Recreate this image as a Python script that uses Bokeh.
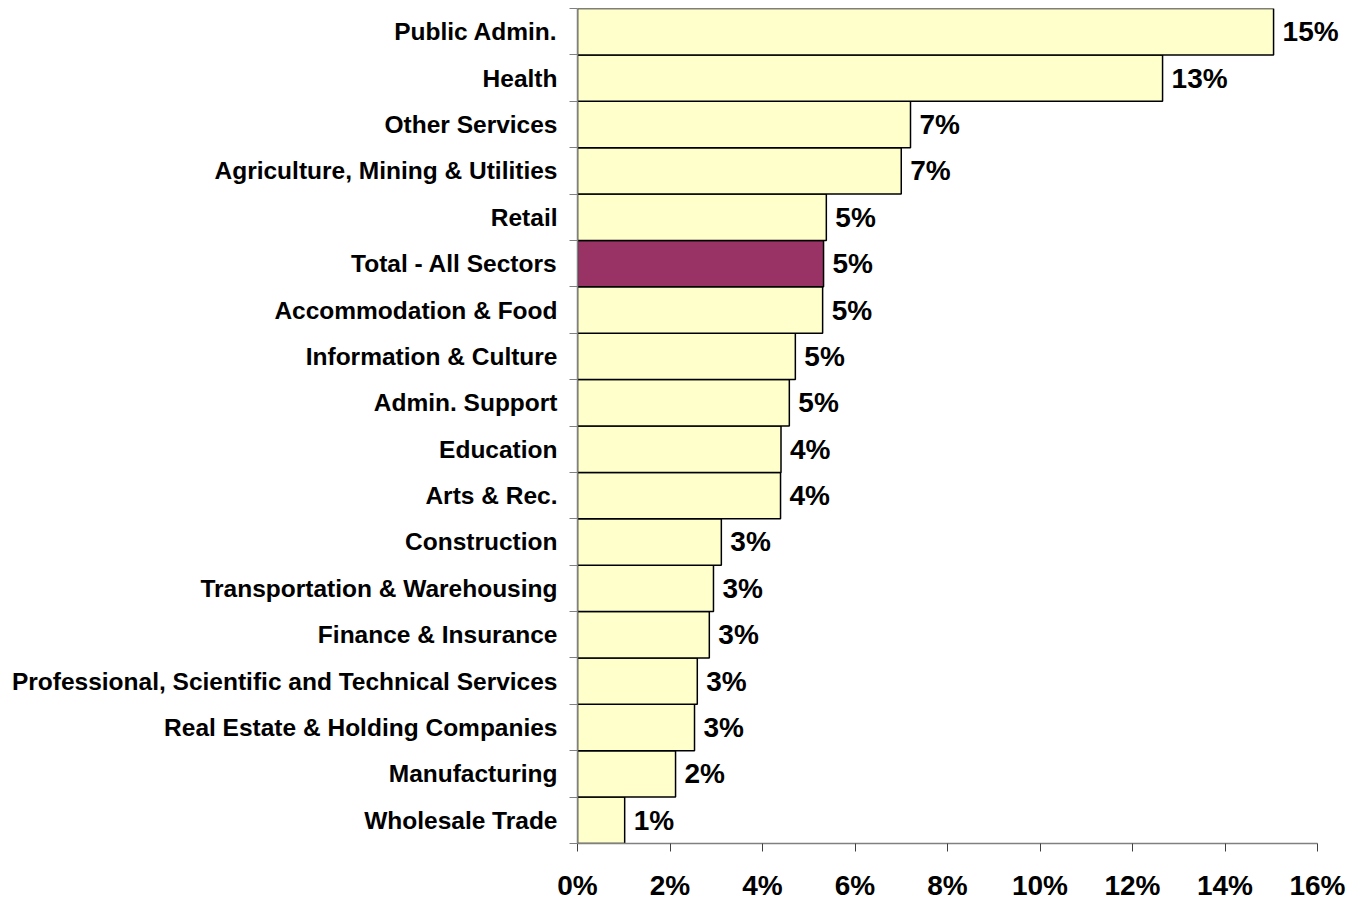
from bokeh.plotting import figure
from bokeh.models import Range1d, FixedTicker, PrintfTickFormatter, ColumnDataSource
from bokeh.core.properties import value
from bokeh.embed import file_html
from bokeh.resources import INLINE

# Categories listed bottom to top
categories = [
    "Wholesale Trade",
    "Manufacturing",
    "Real Estate & Holding Companies",
    "Professional, Scientific and Technical Services",
    "Finance & Insurance",
    "Transportation & Warehousing",
    "Construction",
    "Arts & Rec.",
    "Education",
    "Admin. Support",
    "Information & Culture",
    "Accommodation & Food",
    "Total - All Sectors",
    "Retail",
    "Agriculture, Mining & Utilities",
    "Other Services",
    "Health",
    "Public Admin.",
]
values = [1.02, 2.12, 2.53, 2.59, 2.85, 2.94, 3.11, 4.39, 4.40, 4.58, 4.71, 5.30, 5.32, 5.38, 7.00, 7.20, 12.65, 15.05]
highlight = "Total - All Sectors"
x_ticks = [0, 2, 4, 6, 8, 10, 12, 14, 16]
x_axis_max = 16

FONT = "Liberation Sans"

ypos = list(range(len(categories)))
colors = ["#993366" if c == highlight else "#FFFFCC" for c in categories]
labels = [f"{round(v)}%" for v in values]

src = ColumnDataSource(dict(y=ypos, v=values, c=colors, lab=labels))

# frame extends a little beyond the 16% axis end so the value labels are not clipped
px_per_unit = 740 / x_axis_max
frame_w = 768
p = figure(
    frame_width=frame_w, frame_height=835,
    x_range=Range1d(0, frame_w / px_per_unit),
    y_range=Range1d(-0.5, len(categories) - 0.5),
    output_backend="svg", toolbar_location=None,
    min_border_left=577, min_border_top=8, min_border_right=10, min_border_bottom=30,
)
p.outline_line_color = None
p.grid.visible = False
p.background_fill_color = "white"

p.hbar(y="y", right="v", left=0, height=1.0, fill_color="c", line_color="black",
       line_width=1.5, source=src)

p.text(x="v", y="y", text="lab", x_offset=9, text_align="left", text_baseline="middle",
       text_font=value(FONT), text_font_style="bold", text_font_size="28px",
       text_color="black", source=src)

# x axis
xa = p.xaxis[0]
xa.bounds = (0, x_axis_max)
xa.ticker = FixedTicker(ticks=x_ticks)
xa.formatter = PrintfTickFormatter(format="%d%%")
xa.axis_line_color = "#808080"
xa.axis_line_width = 1.5
xa.major_tick_line_color = "#404040"
xa.major_tick_out = 8
xa.major_tick_in = 0
xa.minor_tick_line_color = None
xa.major_label_text_font = FONT
xa.major_label_text_font_style = "bold"
xa.major_label_text_font_size = "28px"
xa.major_label_text_color = "black"
xa.major_label_standoff = 18

# y axis
ya = p.yaxis[0]
bounds = [i - 0.5 for i in range(len(categories) + 1)]
ya.ticker = FixedTicker(ticks=ypos, minor_ticks=bounds)
ya.major_label_overrides = {i: c for i, c in enumerate(categories)}
ya.axis_line_color = "#808080"
ya.axis_line_width = 1.5
ya.major_tick_line_color = None
ya.major_tick_out = 0
ya.major_tick_in = 0
ya.minor_tick_line_color = "#808080"
ya.minor_tick_out = 8
ya.minor_tick_in = 0
ya.major_label_text_font = FONT
ya.major_label_text_font_style = "bold"
ya.major_label_text_font_size = "24.5px"
ya.major_label_text_color = "black"
ya.major_label_standoff = 12

open("out.html", "w").write(file_html(p, INLINE))
